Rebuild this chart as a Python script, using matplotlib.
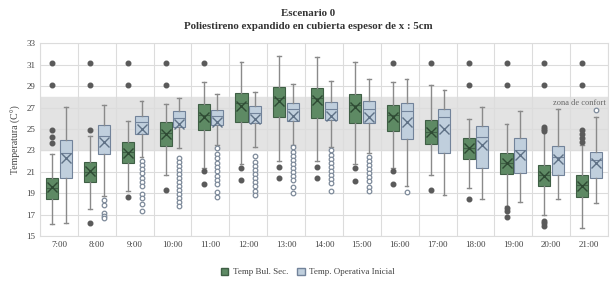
import matplotlib.pyplot as plt
import numpy as np
from matplotlib.patches import Patch

plt.rcParams['font.family'] = ['Liberation Serif', 'DejaVu Serif']

horas = ["7:00", "8:00", "9:00", "10:00", "11:00", "12:00", "13:00", "14:00",
         "15:00", "16:00", "17:00", "18:00", "19:00", "20:00", "21:00"]

# Temp Bul. Sec. (green)
bs_lo = [16.15, 17.55, 19.23, 20.66, 21.38, 21.75, 21.97, 21.97, 21.72, 21.38, 20.7, 19.51, 17.83, 16.96, 15.8]
bs_q1 = [18.42, 20.07, 21.79, 23.44, 24.9, 25.68, 26.12, 26.05, 25.59, 24.84, 23.56, 22.16, 20.76, 19.64, 18.67]
bs_med = [19.45, 21.0, 22.81, 24.6, 26.3, 27.4, 27.9, 27.9, 27.24, 26.3, 24.68, 23.19, 21.79, 20.7, 19.76]
bs_mean = [19.6, 21.07, 22.8, 24.5, 26.15, 27.14, 27.6, 27.7, 27.08, 26.1, 24.75, 23.2, 21.8, 20.63, 19.7]
bs_q3 = [20.45, 21.9, 23.78, 25.68, 27.3, 28.39, 28.92, 28.86, 28.3, 27.24, 25.8, 24.12, 22.78, 21.6, 20.66]
bs_hi = [22.66, 24.3, 25.71, 27.3, 29.42, 31.22, 31.85, 31.75, 31.22, 29.39, 29.1, 25.93, 25.43, 24.9, 23.5]
bs_out = [
    [31.2, 29.07, 24.87, 24.28, 23.7],
    [31.2, 29.07, 24.93, 16.24],
    [31.2, 29.07, 18.64],
    [31.2, 29.07, 19.26],
    [31.2, 21.07, 19.82],
    [21.35, 20.2],
    [21.47, 20.38],
    [21.47, 20.38],
    [21.32, 20.16],
    [31.2, 21.07, 19.82],
    [31.2, 19.32],
    [31.2, 29.07, 18.45],
    [31.2, 29.07, 17.58, 17.36, 16.8],
    [31.2, 29.07, 25.19, 25.0, 24.79, 16.42, 16.2, 15.96],
    [31.2, 29.07, 24.91, 24.51, 24.14, 23.79],
]

# Temp. Operativa Inicial (blue)
op_lo = [16.2, 18.76, 22.35, 23.25, 23.5, 23.3, 23.5, 23.3, 22.8, 19.7, 18.86, 18.42, 18.2, 18.45, 18.1]
op_q1 = [20.45, 22.69, 24.53, 25.18, 25.34, 25.59, 25.77, 25.83, 25.52, 24.09, 22.75, 21.38, 20.85, 20.66, 20.41]
op_med = [22.78, 24.37, 25.65, 25.99, 26.2, 26.46, 26.86, 26.9, 26.86, 26.68, 26.15, 24.28, 23.03, 22.4, 22.1]
op_mean = [22.25, 23.8, 24.96, 25.5, 25.65, 25.93, 26.2, 26.2, 26.08, 25.68, 24.96, 23.47, 22.56, 22.19, 21.8]
op_q3 = [23.93, 25.37, 26.2, 26.64, 26.8, 27.11, 27.45, 27.55, 27.58, 27.4, 26.86, 25.27, 24.12, 23.37, 22.88]
op_hi = [27.02, 27.27, 27.64, 27.9, 28.23, 28.48, 29.23, 29.48, 29.7, 29.67, 28.67, 27.08, 26.68, 26.83, 26.15]
op_out = [
    [],
    [18.4, 17.9, 17.2, 16.9, 16.7],
    [22.0, 21.67, 21.23, 20.86, 20.42, 20.05, 19.7, 18.93, 18.6, 17.99, 17.34],
    [22.31, 21.94, 21.57, 21.19, 20.82, 20.45, 20.07, 19.7, 19.32, 18.95, 18.58, 18.2, 17.83],
    [23.23, 22.67, 22.27, 21.86, 21.49, 21.09, 20.65, 20.25, 19.87, 19.1, 18.69],
    [22.49, 21.96, 21.58, 21.18, 20.81, 20.44, 20.03, 19.66, 19.25, 18.88],
    [23.33, 22.83, 22.46, 22.09, 21.71, 21.34, 20.97, 20.62, 20.25, 19.62, 19.06],
    [23.0, 22.6, 22.24, 21.86, 21.49, 21.12, 20.74, 20.37, 19.94, 19.19],
    [22.42, 22.05, 21.68, 21.3, 20.93, 20.56, 20.18, 19.62, 19.19],
    [19.14],
    [],
    [],
    [],
    [],
    [26.8],
]

confort_lo, confort_hi = 23, 28


def make_stats(lo, q1, med, mean, q3, hi, out):
    stats = []
    for i in range(len(lo)):
        stats.append(dict(whislo=lo[i], q1=q1[i], med=med[i], mean=mean[i],
                          q3=q3[i], whishi=hi[i], fliers=out[i]))
    return stats


fig = plt.figure(figsize=(6.16, 2.94), dpi=100)
ax = fig.add_axes([0.065, 0.197, 0.922, 0.656])

x = np.arange(len(horas))
ax.axhspan(confort_lo, confort_hi, color='#e3e3e3', zorder=0)
ax.text(len(horas) - 0.55, confort_hi - 0.25, "zona de confort", ha='right', va='top',
        fontsize=6, color='#666666')

green = '#5e8a64'
green_edge = '#3f5f45'
blue = '#c0cfdd'
blue_edge = '#72839a'

ax.bxp(make_stats(bs_lo, bs_q1, bs_med, bs_mean, bs_q3, bs_hi, bs_out),
       positions=x - 0.18, widths=0.32, patch_artist=True, showmeans=True,
       boxprops=dict(facecolor=green, edgecolor=green_edge, linewidth=0.8),
       medianprops=dict(color=green_edge, linewidth=0.8),
       whiskerprops=dict(color='#8a8a8a', linewidth=1.0),
       capprops=dict(color='#8a8a8a', linewidth=1.0),
       capwidths=0.1,
       meanprops=dict(marker='x', markersize=7.5, markeredgecolor='#2e4a33', markeredgewidth=1.0),
       flierprops=dict(marker='o', markersize=3.3, markerfacecolor='#5a5a5a',
                       markeredgecolor='#5a5a5a'))

ax.bxp(make_stats(op_lo, op_q1, op_med, op_mean, op_q3, op_hi, op_out),
       positions=x + 0.18, widths=0.32, patch_artist=True, showmeans=True,
       boxprops=dict(facecolor=blue, edgecolor=blue_edge, linewidth=0.8),
       medianprops=dict(color=blue_edge, linewidth=0.8),
       whiskerprops=dict(color='#8a8a8a', linewidth=1.0),
       capprops=dict(color='#8a8a8a', linewidth=1.0),
       capwidths=0.1,
       meanprops=dict(marker='x', markersize=7.5, markeredgecolor='#5f7186', markeredgewidth=1.0),
       flierprops=dict(marker='o', markersize=3.3, markerfacecolor='white',
                       markeredgecolor='#7d8a9a', markeredgewidth=0.9))

ax.set_xlim(-0.5, len(horas) - 0.5)
ax.set_ylim(15, 33)
ax.set_yticks(np.arange(15, 34, 2))
ax.set_xticks(x)
ax.set_xticklabels(horas)
ax.set_xticks(np.arange(-0.5, len(horas), 1), minor=True)
ax.grid(axis='y', color='#dcdcdc', linewidth=0.8)
ax.grid(axis='x', which='minor', color='#dcdcdc', linewidth=0.8)
ax.set_axisbelow(True)
ax.tick_params(length=0, labelsize=6.5, colors='#444444')
ax.tick_params(which='minor', length=0)
for s in ax.spines.values():
    s.set_color('#dcdcdc')
    s.set_linewidth(0.8)

ax.set_ylabel("Temperatura (C°)", fontsize=7, color='#444444')

fig.text(0.5, 0.955, "Escenario 0", ha='center', va='center',
         fontsize=7.8, fontweight='bold', color='#333333')
fig.text(0.5, 0.91, "Poliestireno expandido en cubierta espesor de x : 5cm", ha='center', va='center',
         fontsize=7.8, fontweight='bold', color='#333333')

handles = [Patch(facecolor=green, edgecolor=green_edge, label="Temp Bul. Sec."),
           Patch(facecolor=blue, edgecolor=blue_edge, label="Temp. Operativa Inicial")]
fig.legend(handles=handles, loc='center', bbox_to_anchor=(0.5, 0.075), ncol=2, frameon=False,
           fontsize=6.5, handlelength=0.8, handleheight=0.8, columnspacing=1.0, handletextpad=0.5,
           labelcolor='#444444')

fig.savefig("out.png", dpi=100)
